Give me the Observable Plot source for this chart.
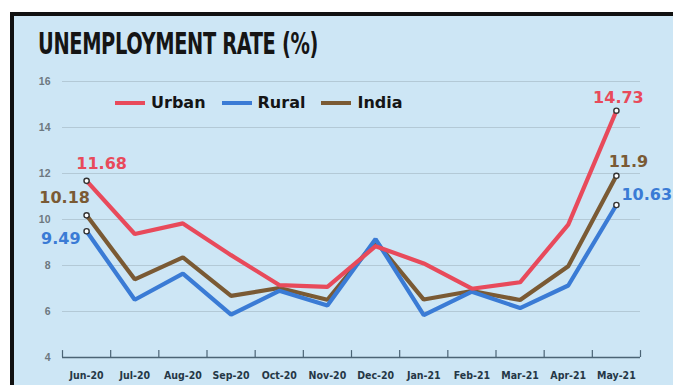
<!DOCTYPE html>
<html>
<head>
<meta charset="utf-8">
<script src="https://cdn.jsdelivr.net/npm/d3@7"></script>
<script src="https://cdn.jsdelivr.net/npm/@observablehq/plot@0.6"></script>
<style>
  body { margin: 0; background: #fff; }
  #wrap { position: relative; width: 673px; height: 385px; overflow: hidden; background: #fff; font-family: "Liberation Sans", Arial, sans-serif; }
  #panel { position: absolute; left: 10px; top: 12px; width: 663px; height: 373px; background: #cde6f5; border-left: 4px solid #111; border-top: 4px solid #111; box-sizing: border-box; }
  #title { position: absolute; left: 38px; top: 25px; font-family: "Liberation Sans Narrow", "DejaVu Sans Condensed", sans-serif; font-weight: bold; font-size: 31px; color: #151515; white-space: nowrap; transform-origin: 0 0; letter-spacing: -0.5px; }
  #chart { position: absolute; left: 0; top: 0; }
  #legend { position: absolute; left: 115px; top: 93px; display: flex; align-items: center; font-family: "DejaVu Sans", sans-serif; font-weight: bold; font-size: 16px; color: #151515; }
  #legend .sw { display: inline-block; width: 30px; height: 4px; margin-right: 6px; }
  #legend .it { display: flex; align-items: center; margin-right: 16px; }
</style>
</head>
<body>
<div id="wrap">
  <div id="panel"></div>
  <div id="chart"></div>
  <div id="title">UNEMPLOYMENT RATE (%)</div>
  <div id="legend"></div>
</div>
<script>
const months = ["Jun-20","Jul-20","Aug-20","Sep-20","Oct-20","Nov-20","Dec-20","Jan-21","Feb-21","Mar-21","Apr-21","May-21"];
const urban = [11.68, 9.37, 9.83, 8.45, 7.15, 7.07, 8.84, 8.09, 6.99, 7.27, 9.78, 14.73];
const rural = [9.49, 6.51, 7.65, 5.86, 6.90, 6.26, 9.15, 5.84, 6.86, 6.15, 7.13, 10.63];
const india = [10.18, 7.40, 8.35, 6.68, 7.02, 6.51, 9.06, 6.52, 6.89, 6.50, 7.97, 11.90];
const seriesNames = ["Urban", "Rural", "India"];
const seriesColors = ["#e84a5b", "#3a7bd5", "#7a5a34"];
const yTicks = [4, 6, 8, 10, 12, 14, 16];

const seriesValues = [urban, rural, india];
const rows = [];
seriesNames.forEach((name, s) => seriesValues[s].forEach((v, i) => rows.push({series: name, i, v})));
const colorOf = Object.fromEntries(seriesNames.map((n, k) => [n, seriesColors[k]]));
const last = months.length - 1;
const ends = rows.filter(d => d.i === 0 || d.i === last);
const fmt = v => String(+v.toFixed(2));

// label offsets (layout only)
const labelPos = {
  "Urban-0": {dx: 15, dy: -17, anchor: "middle"},
  "India-0": {dx: -22, dy: -17, anchor: "middle"},
  "Rural-0": {dx: -6, dy: 8, anchor: "end"},
  ["Urban-" + last]: {dx: 2, dy: -13, anchor: "middle"},
  ["India-" + last]: {dx: 12, dy: -14, anchor: "middle"},
  ["Rural-" + last]: {dx: 5, dy: -10, anchor: "start"}
};

const edges = d3.range(-0.5, months.length, 1);
const drawOrder = ["India", "Rural", "Urban"];

const marks = [
  Plot.gridY(yTicks.filter(t => t > 4), {stroke: "#b3c9d6", strokeOpacity: 1, strokeWidth: 1}),
  Plot.axisY(yTicks, {tickSize: 0, tickPadding: 12, fontSize: 10.5, fill: "#6d7880", fontWeight: "bold", label: null}),
  Plot.ruleY([4], {stroke: "#4b6475", strokeWidth: 1.5}),
  Plot.ruleX(edges, {y1: 4, y2: 4.3, stroke: "#4b6475", strokeWidth: 1.2}),
  Plot.axisX(d3.range(months.length), {tickSize: 0, tickPadding: 14, tickFormat: i => months[i], fontSize: 10.5, fontWeight: "bold", fill: "#253746", fontFamily: "Liberation Sans Narrow, DejaVu Sans Condensed, sans-serif", label: null}),
  ...drawOrder.map(name => Plot.line(rows.filter(d => d.series === name), {x: "i", y: "v", stroke: colorOf[name], strokeWidth: 4.2, strokeLinejoin: "miter"})),
  Plot.dot(ends, {x: "i", y: "v", r: 2.6, fill: "#fff", stroke: "#333", strokeWidth: 1.4}),
  ...ends.map(d => {
    const p = labelPos[d.series + "-" + d.i];
    return Plot.text([d], {x: "i", y: "v", text: e => fmt(e.v), dx: p.dx, dy: p.dy, textAnchor: p.anchor, fill: colorOf[d.series], fontSize: 16, fontWeight: "bold", fontFamily: "DejaVu Sans, sans-serif"});
  })
];

const chart = Plot.plot({
  width: 673,
  height: 385,
  marginTop: 81,
  marginBottom: 28,
  marginLeft: 62,
  marginRight: 33,
  style: {background: "transparent", fontFamily: "Liberation Sans, Arial, sans-serif"},
  x: {type: "linear", domain: [-0.5, months.length - 0.5], axis: null},
  y: {domain: [4, 16], axis: null},
  marks
});
document.getElementById("chart").appendChild(chart);

// legend
const lg = document.getElementById("legend");
seriesNames.forEach((n, k) => {
  const it = document.createElement("div");
  it.className = "it";
  const sw = document.createElement("span");
  sw.className = "sw";
  sw.style.background = seriesColors[k];
  it.appendChild(sw);
  it.appendChild(document.createTextNode(n));
  lg.appendChild(it);
});

// fit title width
const t = document.getElementById("title");
const w = t.getBoundingClientRect().width;
t.style.transform = `scaleX(${280 / w})`;
</script>
</body>
</html>
